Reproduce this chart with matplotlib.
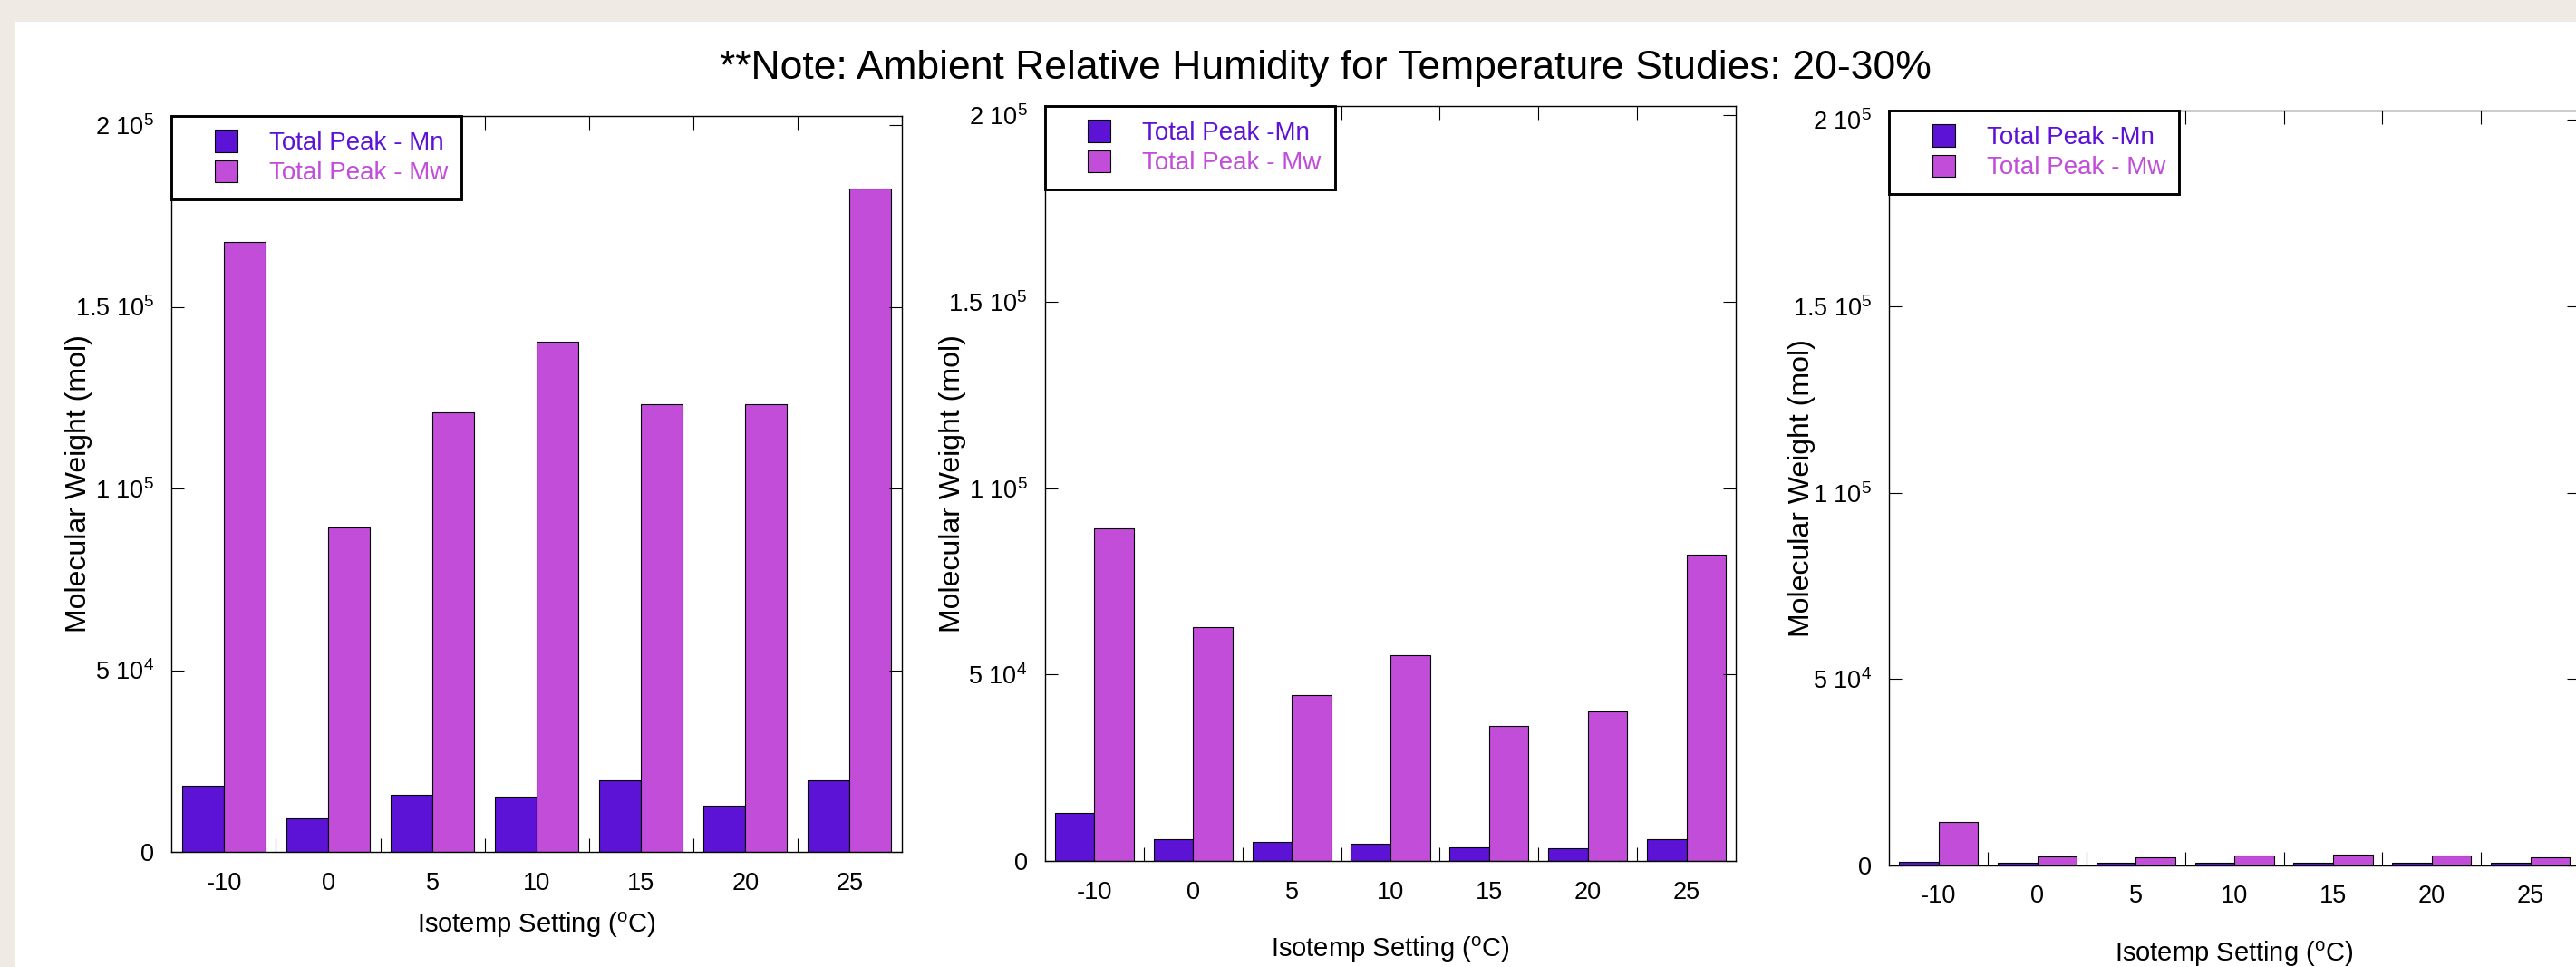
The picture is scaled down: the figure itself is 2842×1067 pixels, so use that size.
import matplotlib
matplotlib.use('Agg')
import matplotlib.pyplot as plt
import matplotlib.patches as mpatches
from matplotlib.legend_handler import HandlerPatch
from matplotlib.ticker import FixedLocator
import numpy as np

# Isotemp settings (deg C) and molecular weight results
temps = ['-10', '0', '5', '10', '15', '20', '25']

p1_mn = [18100, 9300, 15800, 15100, 19800, 12700, 19800]
p1_mw = [167900, 89200, 120900, 140500, 123300, 123300, 182500]

p2_mn = [12960, 5760, 5030, 4620, 3650, 3400, 5760]
p2_mw = [89300, 62600, 44400, 55300, 36200, 40100, 82200]

p3_mn = [1040, 650, 650, 650, 650, 650, 650]
p3_mw = [11700, 2350, 2100, 2600, 2840, 2600, 2100]

ytick_vals = [0, 50000, 100000, 150000, 200000]
ytick_labels = ['0', '5 10$^{4}$', '1 10$^{5}$', '1.5 10$^{5}$', '2 10$^{5}$']

legend_labels_a = ['Total Peak - Mn', 'Total Peak - Mw']
legend_labels_b = ['Total Peak -Mn', 'Total Peak - Mw']

title = '**Note: Ambient Relative Humidity for Temperature Studies: 20-30%'

MN_COLOR = '#5c13d6'
MW_COLOR = '#c14dd9'
BG_COLOR = '#efebe4'

W, H = 2842, 1067

plt.rcParams['font.family'] = ['Liberation Sans', 'DejaVu Sans']
plt.rcParams['mathtext.default'] = 'regular'


def px_rect(left, top, right, bottom):
    # pixel box (from top-left) -> figure fraction
    return [left / W, 1 - bottom / H, (right - left) / W, (bottom - top) / H]


def legend_square(legend, orig_handle, xdescent, ydescent, width, height, fontsize):
    # small square at the right end of the handle box
    w = 0.44 * width
    return mpatches.Rectangle((-xdescent + width - w, -ydescent), w, height)


def draw_panel(ax, mn, mw, labels, ylab_x, xlab_y, xpad):
    x = np.arange(len(temps))
    ax.bar(x - 0.2, mn, width=0.4, color=MN_COLOR, edgecolor='black', linewidth=0.8)
    ax.bar(x + 0.2, mw, width=0.4, color=MW_COLOR, edgecolor='black', linewidth=0.8)

    ax.set_xlim(-0.5, 6.5)
    ax.set_ylim(0, 202500)

    ax.set_xticks(x)
    ax.set_xticklabels(temps)
    ax.xaxis.set_minor_locator(FixedLocator(x[:-1] + 0.5))
    ax.tick_params(axis='x', which='major', length=0, pad=xpad, labelsize=19.5)
    ax.tick_params(axis='x', which='minor', direction='in', length=10.5, width=0.8,
                   top=True, bottom=True)

    ax.set_yticks(ytick_vals)
    ax.set_yticklabels(ytick_labels)
    ax.tick_params(axis='y', direction='in', length=10, width=0.8, left=True, right=True,
                   labelsize=19.5, pad=14)

    for s in ax.spines.values():
        s.set_linewidth(1.0)

    ax.set_xlabel('Isotemp Setting ($^{o}$C)', fontsize=21)
    ax.set_ylabel('Molecular Weight (mol)', fontsize=23)
    ax.xaxis.set_label_coords(0.5, xlab_y)
    ax.xaxis.label.set_va('center')
    ax.yaxis.set_label_coords(ylab_x, 0.5)
    ax.yaxis.label.set_va('center')

    handles = [mpatches.Patch(facecolor=MN_COLOR, edgecolor='black', linewidth=0.8),
               mpatches.Patch(facecolor=MW_COLOR, edgecolor='black', linewidth=0.8)]
    leg = ax.legend(handles, labels, loc='upper left', borderaxespad=0, fontsize=20,
                    fancybox=False, framealpha=1, edgecolor='black',
                    borderpad=0.55, handlelength=2.05, handleheight=0.97,
                    handletextpad=1.26, labelspacing=0.2,
                    handler_map={mpatches.Patch: HandlerPatch(patch_func=legend_square)})
    leg.get_frame().set_linewidth(2.1)
    leg.get_texts()[0].set_color(MN_COLOR)
    leg.get_texts()[1].set_color(MW_COLOR)


fig = plt.figure(figsize=(W / 100, H / 100), dpi=100, facecolor=BG_COLOR)
# white slide area behind the three charts
fig.patches.append(mpatches.Rectangle((16 / W, 0), 1, (H - 24) / H, transform=fig.transFigure,
                                      facecolor='white', edgecolor='none', zorder=-5))

ax1 = fig.add_axes(px_rect(189.4, 128, 995, 940))
ax2 = fig.add_axes(px_rect(1153, 117, 1915, 950))
ax3 = fig.add_axes(px_rect(2084.4, 122, 2846, 955))

draw_panel(ax1, p1_mn, p1_mw, legend_labels_a, -0.127, -0.099, 16)
draw_panel(ax2, p2_mn, p2_mw, legend_labels_b, -0.134, -0.118, 16)
draw_panel(ax3, p3_mn, p3_mw, legend_labels_b, -0.127, -0.118, 15)

fig.text(1462 / W, 1 - 87 / H, title, ha='center', va='baseline', fontsize=32,
         family='Liberation Sans')

fig.savefig('out.png', dpi=100, facecolor=BG_COLOR)
